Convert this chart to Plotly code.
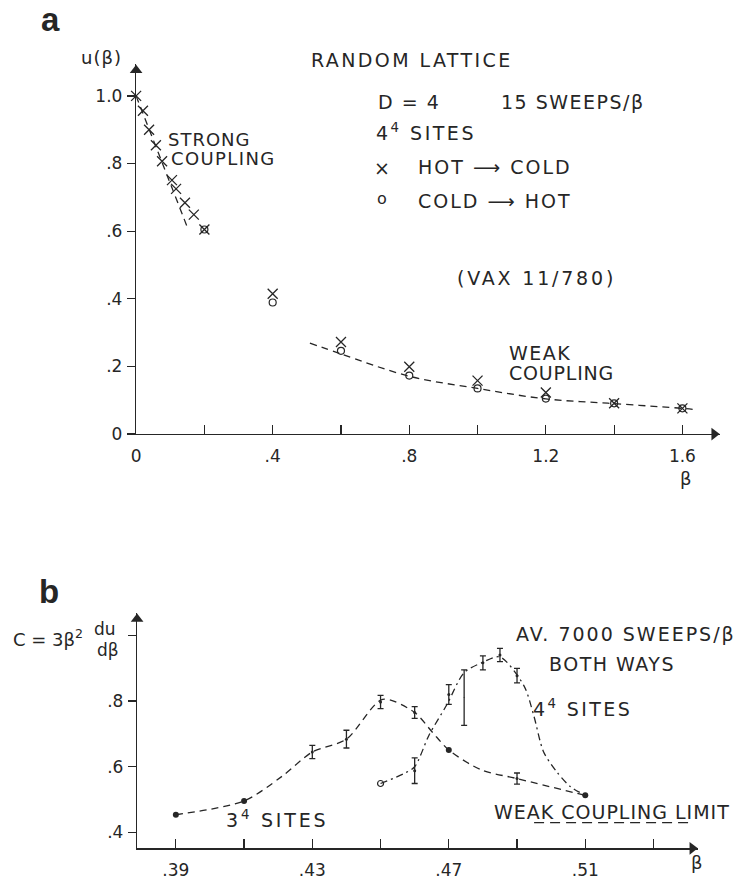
import plotly.graph_objects as go

# ---------------- Panel a data ----------------
beta_hot = [0.0, 0.02, 0.038, 0.058, 0.076, 0.105, 0.117, 0.143, 0.169, 0.2, 0.4, 0.6, 0.8, 1.0, 1.2, 1.4, 1.6]
u_hot = [1.0, 0.956, 0.90, 0.854, 0.807, 0.751, 0.725, 0.684, 0.649, 0.605, 0.415, 0.272, 0.199, 0.158, 0.123, 0.091, 0.076]
beta_cold = [0.2, 0.4, 0.6, 0.8, 1.0, 1.2, 1.4, 1.6]
u_cold = [0.605, 0.389, 0.246, 0.173, 0.135, 0.105, 0.091, 0.076]
strong_beta = [0.0, 0.069, 0.148]
strong_u = [1.0, 0.824, 0.617]
weak_beta = [0.509, 0.6, 0.8, 1.0, 1.2, 1.4, 1.6, 1.63]
weak_u = [0.269, 0.237, 0.171, 0.135, 0.104, 0.09, 0.076, 0.073]
a_xticks = [0, 0.4, 0.8, 1.2, 1.6]
a_xtext = ["0", ".4", ".8", "1.2", "1.6"]
a_xminor = [0.2, 0.6, 1.0, 1.4]
a_yticks = [0, 0.2, 0.4, 0.6, 0.8, 1.0]
a_ytext = ["0", ".2", ".4", ".6", ".8", "1.0"]

# ---------------- Panel b data ----------------
b3_dot_beta = [0.39, 0.41, 0.47, 0.51]
b3_dot_C = [0.454, 0.496, 0.651, 0.513]
b3_err_beta = [0.43, 0.44, 0.45, 0.46, 0.49]
b3_err_C = [0.645, 0.684, 0.797, 0.765, 0.564]
b3_err = [0.02, 0.027, 0.02, 0.018, 0.017]
b3_curve_beta = [0.39, 0.41, 0.421, 0.43, 0.44, 0.4506, 0.46, 0.4652, 0.47, 0.4794, 0.49, 0.51]
b3_curve_C = [0.454, 0.496, 0.57, 0.645, 0.684, 0.805, 0.765, 0.705, 0.651, 0.591, 0.564, 0.513]

b4_open_beta = [0.45]
b4_open_C = [0.549]
b4_err_beta = [0.46, 0.47, 0.48, 0.485, 0.49]
b4_err_C = [0.588, 0.82, 0.916, 0.94, 0.877]
b4_err = [0.039, 0.03, 0.021, 0.02, 0.022]
b4_long_beta = [0.4745]
b4_long_C = [0.8105]
b4_long_err = [0.0845]
b4_curve_beta = [0.45, 0.457, 0.46, 0.4642, 0.4695, 0.4745, 0.48, 0.485, 0.492, 0.4949, 0.4978, 0.5016, 0.5056, 0.51]
b4_curve_C = [0.549, 0.58, 0.60, 0.696, 0.79, 0.886, 0.918, 0.934, 0.847, 0.756, 0.645, 0.585, 0.54, 0.513]
weak_limit_beta = [0.495, 0.541]
weak_limit_C = [0.43, 0.43]

b_xticks = [0.39, 0.43, 0.47, 0.51]
b_xtext = [".39", ".43", ".47", ".51"]
b_xminor = [0.41, 0.45, 0.49, 0.53]
b_yticks = [0.4, 0.6, 0.8]
b_ytext = [".4", ".6", ".8"]
b_yminor = [1.0]

INK = "#262626"
FONT = "DejaVu Sans"
W, H = 742, 887
DASH = "7px,5px"
DASHDOT = "7px,4px,2px,4px"


def px(x):
    return x / W


def py(y):
    return 1 - y / H


a_xrange = [0, (720 - 132) / 343.75]
a_yrange = [0, (439 - 65) / 342.0]
b_xrange = [0.39 - (172 - 133) / 3435.0, 0.39 + (698 - 172) / 3435.0]
b_yrange = [0.4 - (858 - 842) / 332.5, 0.8 + (709 - 620) / 332.5]

fig = go.Figure()

# ---- panel a traces ----
fig.add_trace(go.Scatter(x=strong_beta, y=strong_u, mode="lines", line=dict(color=INK, width=1.3, dash=DASH),
                         xaxis="x", yaxis="y", cliponaxis=False))
fig.add_trace(go.Scatter(x=weak_beta, y=weak_u, mode="lines", line=dict(color=INK, width=1.3, dash=DASH, shape="spline"),
                         xaxis="x", yaxis="y", cliponaxis=False))
fig.add_trace(go.Scatter(x=beta_hot, y=u_hot, mode="markers",
                         marker=dict(symbol="x-thin-open", size=10, color=INK, line=dict(color=INK, width=1.3)),
                         xaxis="x", yaxis="y", cliponaxis=False))
fig.add_trace(go.Scatter(x=beta_cold, y=u_cold, mode="markers",
                         marker=dict(symbol="circle-open", size=7, color=INK, line=dict(color=INK, width=1.2)),
                         xaxis="x", yaxis="y", cliponaxis=False))

# ---- panel b traces ----
fig.add_trace(go.Scatter(x=b3_curve_beta, y=b3_curve_C, mode="lines",
                         line=dict(color=INK, width=1.3, dash=DASH, shape="spline", smoothing=0.8),
                         xaxis="x2", yaxis="y2", cliponaxis=False))
fig.add_trace(go.Scatter(x=b4_curve_beta, y=b4_curve_C, mode="lines",
                         line=dict(color=INK, width=1.3, dash=DASHDOT, shape="spline", smoothing=0.8),
                         xaxis="x2", yaxis="y2", cliponaxis=False))
fig.add_trace(go.Scatter(x=weak_limit_beta, y=weak_limit_C, mode="lines",
                         line=dict(color=INK, width=1.3, dash="10px,6px"),
                         xaxis="x2", yaxis="y2", cliponaxis=False))
fig.add_trace(go.Scatter(x=b3_dot_beta, y=b3_dot_C, mode="markers",
                         marker=dict(symbol="circle", size=6, color=INK),
                         xaxis="x2", yaxis="y2", cliponaxis=False))
fig.add_trace(go.Scatter(x=b3_err_beta, y=b3_err_C, mode="markers",
                         marker=dict(symbol="circle", size=3, color=INK),
                         error_y=dict(type="data", array=b3_err, visible=True, color=INK, thickness=1.3, width=3),
                         xaxis="x2", yaxis="y2", cliponaxis=False))
fig.add_trace(go.Scatter(x=b4_err_beta, y=b4_err_C, mode="markers",
                         marker=dict(symbol="circle", size=3, color=INK),
                         error_y=dict(type="data", array=b4_err, visible=True, color=INK, thickness=1.3, width=3),
                         xaxis="x2", yaxis="y2", cliponaxis=False))
fig.add_trace(go.Scatter(x=b4_long_beta, y=b4_long_C, mode="markers",
                         marker=dict(symbol="circle", size=1, color=INK),
                         error_y=dict(type="data", array=b4_long_err, visible=True, color=INK, thickness=1.3, width=3),
                         xaxis="x2", yaxis="y2", cliponaxis=False))
fig.add_trace(go.Scatter(x=b4_open_beta, y=b4_open_C, mode="markers",
                         marker=dict(symbol="circle-open", size=6, color=INK, line=dict(color=INK, width=1.2)),
                         xaxis="x2", yaxis="y2", cliponaxis=False))

# ---- axis arrowheads (drawn as markers at the axis ends) ----
HEAD = 6  # px, half size of the arrowhead marker
fig.add_trace(go.Scatter(x=[a_xrange[1] - HEAD / 343.75], y=[0], mode="markers",
                         marker=dict(symbol="triangle-right", size=11, color=INK),
                         xaxis="x", yaxis="y", cliponaxis=False))
fig.add_trace(go.Scatter(x=[0], y=[a_yrange[1] - HEAD / 342.0], mode="markers",
                         marker=dict(symbol="triangle-up", size=11, color=INK),
                         xaxis="x", yaxis="y", cliponaxis=False))
fig.add_trace(go.Scatter(x=[b_xrange[1] - HEAD / 3435.0], y=[b_yrange[0]], mode="markers",
                         marker=dict(symbol="triangle-right", size=11, color=INK),
                         xaxis="x2", yaxis="y2", cliponaxis=False))
fig.add_trace(go.Scatter(x=[b_xrange[0]], y=[b_yrange[1] - HEAD / 332.5], mode="markers",
                         marker=dict(symbol="triangle-up", size=11, color=INK),
                         xaxis="x2", yaxis="y2", cliponaxis=False))

# ---- axes ----
ax_common = dict(showline=True, linecolor=INK, linewidth=1.3, showgrid=False, zeroline=False,
                 tickcolor=INK, tickwidth=1.2, tickfont=dict(family=FONT, size=17, color=INK), tickmode="array")


def minor(vals, where, ln):
    return dict(tickmode="array", tickvals=vals, ticks=where, ticklen=ln, tickwidth=1.2, tickcolor=INK,
                showgrid=False)


fig.update_layout(
    width=W, height=H, margin=dict(l=0, r=0, t=0, b=0),
    paper_bgcolor="white", plot_bgcolor="white", showlegend=False, hovermode=False,
    xaxis=dict(domain=[px(132), px(720)], range=a_xrange, anchor="y", ticks="inside", ticklen=9,
               tickvals=a_xticks, ticktext=a_xtext, ticklabelstandoff=6, minor=minor(a_xminor, "inside", 9),
               **ax_common),
    yaxis=dict(domain=[py(439), py(65)], range=a_yrange, anchor="x", ticks="outside", ticklen=8,
               tickvals=a_yticks, ticktext=a_ytext, ticklabelstandoff=1, **ax_common),
    xaxis2=dict(domain=[px(133), px(698)], range=b_xrange, anchor="y2", ticks="inside", ticklen=9,
                tickvals=b_xticks, ticktext=b_xtext, ticklabelstandoff=6, minor=minor(b_xminor, "inside", 9),
                **ax_common),
    yaxis2=dict(domain=[py(858), py(620)], range=b_yrange, anchor="x2", ticks="outside", ticklen=8,
                tickvals=b_yticks, ticktext=b_ytext, ticklabelstandoff=1, minor=minor(b_yminor, "outside", 8),
                **ax_common),
)


def T(text, x, y, size=19, xanchor="left", bold=False, family=FONT, ls=0):
    if ls:
        text = '<span style="letter-spacing:%spx">%s</span>' % (ls, text)
    if bold:
        text = "<b>" + text + "</b>"
    return dict(text=text, x=px(x), y=py(y), xref="paper", yref="paper", xanchor=xanchor, yanchor="middle",
                showarrow=False, font=dict(family=family, size=size, color=INK))


ann = [
    # panel a labels
    T("a", 46, 20, size=33, xanchor="center", bold=True, family="Liberation Sans"),
    T("u(β)", 97, 58, size=18, xanchor="center", ls=1),
    T("RANDOM LATTICE", 306, 61, ls=2.4),
    T("D = 4", 374, 103, ls=1.5),
    T("15 SWEEPS/β", 497, 103, ls=1.5),
    T("4<sup>4</sup> SITES", 372, 134, ls=2.5),
    T("×", 380, 170, xanchor="center"),
    T("HOT ⟶ COLD", 414, 169, ls=2),
    T("o", 380, 201, size=16, xanchor="center"),
    T("COLD ⟶ HOT", 414, 203, ls=2),
    T("STRONG", 162, 141, size=18, ls=1),
    T("COUPLING", 165, 160, size=18, ls=1.4),
    T("(VAX 11/780)", 453, 281, ls=2.8),
    T("WEAK", 505, 357, ls=1.5),
    T("COUPLING", 505, 377, ls=0.8),
    T("β", 686, 484, size=18, xanchor="center"),
    # panel b labels
    T("b", 44, 598, size=33, xanchor="center", bold=True, family="Liberation Sans"),
    T("C = 3β<sup>2</sup>", 6, 645, size=18),
    T("du", 101, 636, size=17, xanchor="center"),
    T("dβ", 104, 657, size=17, xanchor="center"),
    T("AV. 7000 SWEEPS/β", 512, 641, ls=2.0),
    T("BOTH WAYS", 546, 672, ls=1.5),
    T("4<sup>4</sup> SITES", 530, 716, ls=2.4),
    T("3<sup>4</sup> SITES", 220, 828, ls=2.8),
    T("WEAK COUPLING LIMIT", 490, 821, ls=1),
    T("β", 697, 872, size=18, xanchor="center"),
]
fig.update_layout(annotations=ann)

fig.write_html("out.html", config={"displayModeBar": False, "staticPlot": True},
               post_script="document.body.style.margin='0px';")
